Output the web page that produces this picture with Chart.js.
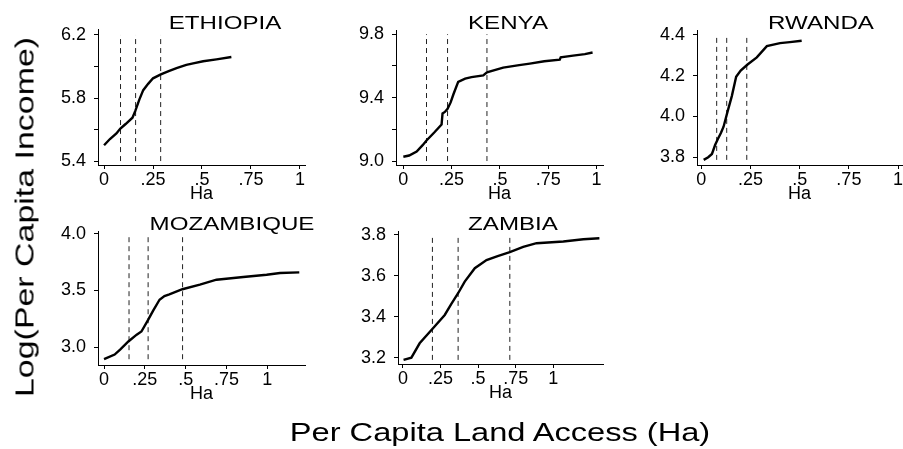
<!DOCTYPE html>
<html>
<head>
<meta charset="utf-8">
<script src="https://cdn.jsdelivr.net/npm/chart.js@4.4.1/dist/chart.umd.min.js"></script>
<style>
  body { margin: 0; background: #fff; }
  #wrap { position: relative; width: 903px; height: 449px; overflow: hidden; font-family: "Liberation Sans", Arial, sans-serif; color: #000; }
  #wrap canvas { position: absolute; left: 0; top: 0; }
  /* the original lettering is wider than Arial, so the titles get a little horizontal stretch */
  .ytitle { position: absolute; left: 25px; top: 217px; transform: translate(-50%, -50%) rotate(-90deg) scaleX(1.33); font-size: 25.5px; white-space: nowrap; }
  .xtitle { position: absolute; left: 500px; top: 432px; transform: translate(-50%, -50%) scaleX(1.23); font-size: 26.5px; white-space: nowrap; }
</style>
</head>
<body>
<div id="wrap">
  <canvas id="eth" width="903" height="449"></canvas>
  <canvas id="ken" width="903" height="449"></canvas>
  <canvas id="rwa" width="903" height="449"></canvas>
  <canvas id="moz" width="903" height="449"></canvas>
  <canvas id="zam" width="903" height="449"></canvas>
  <div class="ytitle">Log(Per Capita Income)</div>
  <div class="xtitle">Per Capita Land Access (Ha)</div>
</div>
<script>
// x ticks shared by all panels (Ha)
const xTicks = [0, 0.25, 0.5, 0.75, 1];

// Ethiopia
const ethX = [0, 0.03, 0.063, 0.082, 0.11, 0.145, 0.16, 0.18, 0.2, 0.225, 0.25, 0.29, 0.33, 0.37, 0.42, 0.455, 0.506, 0.574, 0.65];
const ethY = [5.50, 5.54, 5.575, 5.605, 5.635, 5.675, 5.72, 5.79, 5.85, 5.89, 5.925, 5.95, 5.97, 5.99, 6.01, 6.02, 6.033, 6.045, 6.06];
const ethCuts = [0.084, 0.161, 0.289];
const ethYLabels = [5.4, 5.8, 6.2];
const ethYMinor = [5.6, 6.0];

// Kenya
const kenX = [0, 0.03, 0.069, 0.1, 0.12, 0.16, 0.198, 0.203, 0.215, 0.229, 0.245, 0.259, 0.284, 0.32, 0.353, 0.414, 0.433, 0.517, 0.6, 0.655, 0.73, 0.81, 0.815, 0.879, 0.94, 0.98];
const kenY = [9.027, 9.035, 9.06, 9.10, 9.13, 9.18, 9.23, 9.30, 9.31, 9.33, 9.37, 9.42, 9.50, 9.52, 9.53, 9.54, 9.56, 9.59, 9.605, 9.615, 9.63, 9.64, 9.655, 9.665, 9.675, 9.685];
const kenCuts = [0.12, 0.229, 0.433];
const kenYLabels = [9.0, 9.4, 9.8];
const kenYMinor = [9.2, 9.6];

// Rwanda
const rwaX = [0.012, 0.035, 0.054, 0.07, 0.084, 0.1, 0.113, 0.135, 0.155, 0.177, 0.2, 0.235, 0.282, 0.333, 0.4, 0.45, 0.51];
const rwaY = [3.787, 3.80, 3.816, 3.86, 3.89, 3.92, 3.95, 4.03, 4.10, 4.195, 4.225, 4.255, 4.29, 4.345, 4.36, 4.365, 4.372];
const rwaCuts = [0.078, 0.129, 0.231];
const rwaYLabels = [3.8, 4.0, 4.2, 4.4];
const rwaYMinor = [];

// Mozambique
const mozX = [0, 0.065, 0.1, 0.149, 0.2, 0.229, 0.27, 0.3, 0.34, 0.37, 0.4, 0.48, 0.587, 0.689, 0.853, 0.996, 1.078, 1.196];
const mozY = [2.894, 2.935, 2.98, 3.05, 3.11, 3.138, 3.24, 3.32, 3.418, 3.45, 3.465, 3.51, 3.55, 3.594, 3.618, 3.638, 3.653, 3.659];
const mozCuts = [0.153, 0.27, 0.481];
const mozYLabels = [3.0, 3.5, 4.0];
const mozYMinor = [];

// Zambia
const zamX = [0.004, 0.056, 0.111, 0.2, 0.278, 0.32, 0.367, 0.411, 0.478, 0.556, 0.63, 0.711, 0.8, 0.889, 1.067, 1.2, 1.307];
const zamY = [3.189, 3.20, 3.27, 3.343, 3.408, 3.46, 3.514, 3.571, 3.636, 3.676, 3.695, 3.714, 3.74, 3.758, 3.766, 3.777, 3.782];
const zamCuts = [0.196, 0.367, 0.711];
const zamYLabels = [3.2, 3.4, 3.6, 3.8];
const zamYMinor = [];

// fixed sizes of the axis boxes so the plot areas land where they should
const Y_W = 60;
const X_H = 40;
const W = 903, H = 449;

Chart.defaults.font.family = '"Liberation Sans", Arial, sans-serif';
Chart.defaults.color = '#000';

// draws the country name above each panel (slightly widened like the original font)
const panelTitle = {
  id: 'panelTitle',
  afterDraw(chart, args, opts) {
    const ctx = chart.ctx;
    ctx.save();
    ctx.font = '19px "Liberation Sans", Arial, sans-serif';
    ctx.fillStyle = '#000';
    ctx.textAlign = 'center';
    ctx.textBaseline = 'middle';
    ctx.translate(opts.x, opts.y);
    ctx.scale(1.27, 1);
    ctx.fillText(opts.text, 0, 0);
    ctx.restore();
  }
};

function xLabel(v) {
  if (v === 0 || v === 1) return String(v);
  return String(v).replace(/^0/, '');
}

function makePanel(id, title, xs, ys, cuts, yLabels, yMinor, box) {
  const yTicks = yLabels.concat(yMinor).sort((a, b) => a - b);
  const lo = Math.min(...ys, ...yLabels);
  const hi = Math.max(...ys, ...yLabels);

  const datasets = [{
    data: xs.map((x, i) => ({ x: x, y: ys[i] })),
    showLine: true,
    borderColor: '#000',
    borderWidth: 2.4,
    pointRadius: 0,
    tension: 0
  }];

  // dashed cut-off lines
  cuts.forEach(c => {
    datasets.push({
      data: [{ x: c, y: lo }, { x: c, y: hi }],
      showLine: true,
      borderColor: '#222',
      borderWidth: 1,
      borderDash: [5, 4],
      pointRadius: 0
    });
  });

  const axisGrid = { display: true, drawOnChartArea: false, drawTicks: true, tickLength: 4, color: '#000', lineWidth: 1 };

  new Chart(document.getElementById(id), {
    type: 'scatter',
    data: { datasets: datasets },
    options: {
      responsive: false,
      animation: false,
      events: [],
      layout: {
        padding: { left: box.l - Y_W, top: box.t, right: W - box.r, bottom: H - box.b - X_H }
      },
      plugins: {
        legend: { display: false },
        tooltip: { enabled: false },
        panelTitle: { text: title, x: box.tx, y: box.ty }
      },
      scales: {
        x: {
          type: 'linear',
          min: box.xmin,
          max: box.xmax,
          afterBuildTicks: s => { s.ticks = xTicks.map(v => ({ value: v })); },
          afterFit: s => { s.height = X_H; s.paddingLeft = 0; s.paddingRight = 0; },
          ticks: { autoSkip: false, maxRotation: 0, padding: 0, font: { size: 18 }, callback: v => xLabel(v) },
          grid: axisGrid,
          border: { display: true, color: '#000', width: 1 },
          title: { display: true, text: 'Ha', font: { size: 18 }, padding: 0 }
        },
        y: {
          type: 'linear',
          min: box.ymin,
          max: box.ymax,
          afterBuildTicks: s => { s.ticks = yTicks.map(v => ({ value: v })); },
          afterFit: s => { s.width = Y_W; s.paddingTop = 0; s.paddingBottom = 0; },
          ticks: {
            autoSkip: false,
            padding: 8,
            font: { size: 18 },
            callback: v => (yLabels.includes(v) ? v.toFixed(1) : '')
          },
          grid: axisGrid,
          border: { display: true, color: '#000', width: 1 }
        }
      }
    },
    plugins: [panelTitle]
  });
}

makePanel('eth', 'ETHIOPIA', ethX, ethY, ethCuts, ethYLabels, ethYMinor,
  { l: 98, r: 305, t: 29, b: 165, xmin: -0.031, xmax: 1.026, ymin: 5.375, ymax: 6.238, tx: 225, ty: 24 });
makePanel('ken', 'KENYA', kenX, kenY, kenCuts, kenYLabels, kenYMinor,
  { l: 396, r: 603, t: 30, b: 165, xmin: -0.038, xmax: 1.034, ymin: 8.975, ymax: 9.827, tx: 508, ty: 24 });
makePanel('rwa', 'RWANDA', rwaX, rwaY, rwaCuts, rwaYLabels, rwaYMinor,
  { l: 697, r: 902, t: 30, b: 165, xmin: -0.022, xmax: 1.02, ymin: 3.762, ymax: 4.4245, tx: 821, ty: 24 });
makePanel('moz', 'MOZAMBIQUE', mozX, mozY, mozCuts, mozYLabels, mozYMinor,
  { l: 98, r: 305, t: 231, b: 365, xmin: -0.037, xmax: 1.231, ymin: 2.843, ymax: 4.023, tx: 232, ty: 225 });
makePanel('zam', 'ZAMBIA', zamX, zamY, zamCuts, zamYLabels, zamYMinor,
  { l: 398, r: 603, t: 231, b: 364, xmin: -0.033, xmax: 1.331, ymin: 3.169, ymax: 3.8175, tx: 513, ty: 225 });
</script>
</body>
</html>
